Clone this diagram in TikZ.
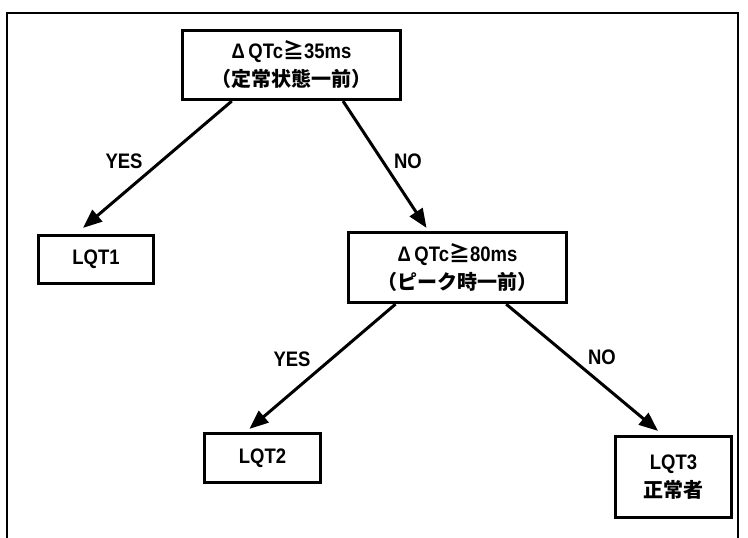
\documentclass[tikz,border=0pt]{standalone}
\usepackage{fontspec}
\setmainfont{Liberation Sans}[FakeStretch=0.88]
\newfontfamily\jp{Noto Sans CJK JP}
\usetikzlibrary{arrows.meta,calc}
\begin{document}
\begin{tikzpicture}[x=1pt,y=-1pt,
  box/.style={draw, line width=3.2pt, rectangle, inner sep=0pt, align=center,
    font=\fontsize{21}{28}\selectfont\bfseries},
  arr/.style={line width=3pt, -{Triangle[length=19pt,width=15pt]}},
  lab/.style={font=\fontsize{21}{22}\selectfont\bfseries}]
\useasboundingbox (0,0) rectangle (748,538);
\draw[line width=1.8pt] (7,538) -- (7,13) -- (738,13) -- (738,538);
\node[box, minimum width=218pt, minimum height=69pt] (b1) at (291.5,65)
  {Δ\,QTc{\jp ≧}35ms\\{\jp\fontsize{20}{28}\selectfont （定常状態一前）}};
\node[box, minimum width=218pt, minimum height=70pt] (b2) at (457.5,267.5)
  {Δ\,QTc{\jp ≧}80ms\\{\jp\fontsize{20}{28}\selectfont （ピーク時一前）}};
\node[box, minimum width=115pt, minimum height=48pt] (q1) at (96,259.5) {LQT1};
\node[box, minimum width=116pt, minimum height=49pt] (q2) at (262.5,458) {LQT2};
\node[box, minimum width=116pt, minimum height=81pt] (q3) at (673.5,477) {LQT3\\{\jp\fontsize{20}{28}\selectfont 正常者}};
\draw[arr] ($(b1.south west)!0.23!(b1.south east)$) -- ($(q1.north west)!0.39!(q1.north east)+(0,-6)$);
\draw[arr] ($(b1.south west)!0.733!(b1.south east)$) -- ($(b2.north west)!0.36!(b2.north east)+(0,-3)$);
\draw[arr] ($(b2.south west)!0.22!(b2.south east)$) -- ($(q2.north west)!0.39!(q2.north east)+(0,-3)$);
\draw[arr] ($(b2.south west)!0.72!(b2.south east)$) -- ($(q3.north west)!0.37!(q3.north east)+(0,-4)$);
\node[lab] (l1) at (124,161) {YES};
\node[lab] (l2) at (408,161) {NO};
\node[lab] (l3) at (292,359) {YES};
\node[lab] (l4) at (602,357) {NO};
\end{tikzpicture}
\end{document}
